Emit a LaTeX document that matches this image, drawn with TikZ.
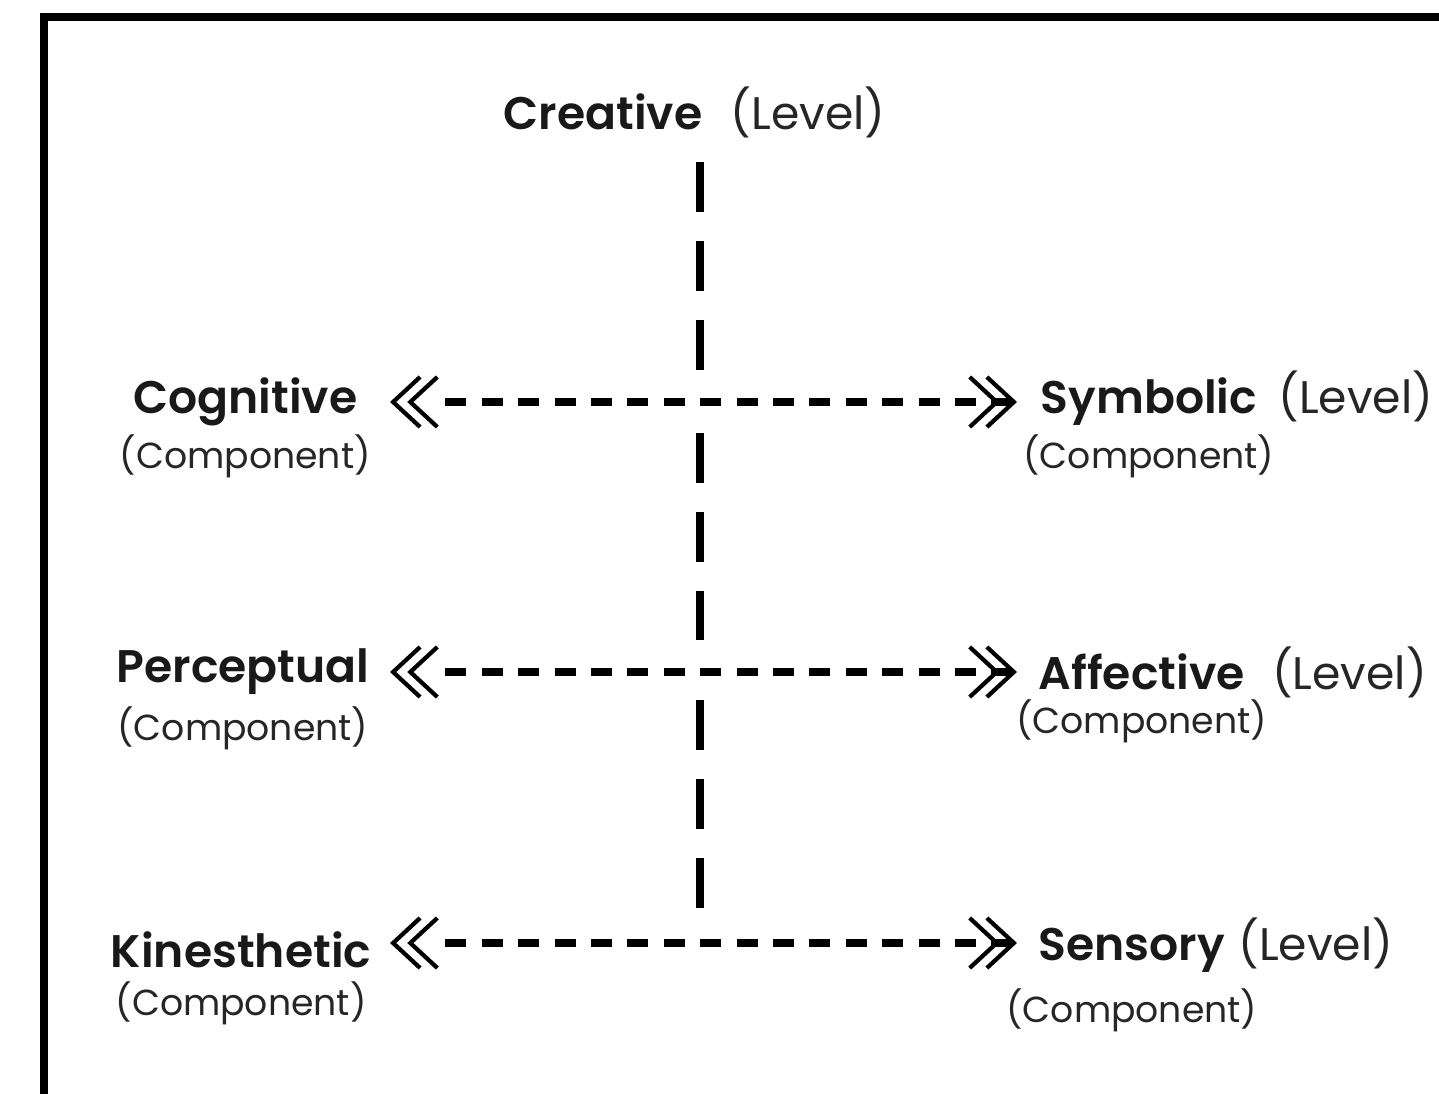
\documentclass[tikz,border=0pt]{standalone}
\usepackage{fontspec}
\setmainfont{Poppins}[BoldFont={Poppins SemiBold}]
\usetikzlibrary{arrows.meta,positioning}

\tikzset{
  chev/.tip={Straight Barb[length=0.27cm,width=0.5cm,line width=1.2pt]},
  word/.style={font=\bfseries\fontsize{13}{15}\selectfont, text=black!90, inner sep=0pt},
  lvl/.style={font=\fontsize{13}{15}\selectfont, text=black!85, inner sep=0pt},
  comp/.style={font=\fontsize{10.3}{12}\selectfont, text=black!85, inner sep=0pt},
  hline/.style={line width=2.3pt, dash pattern=on 0.21cm off 0.154cm, dash phase=0.304cm,
    arrows={chev[]chev[sep=-0.15cm].}-{chev[sep=-0.15cm]chev[].}},
  vline/.style={line width=2.5pt, dash pattern=on 0.5cm off 0.29cm},
  frame/.style={line width=2.3pt}
}

\begin{document}
\begin{tikzpicture}
  \useasboundingbox (0,0) rectangle (14.39,-10.94);
  \clip (0,0) rectangle (14.39,-10.94);

  % Outer frame
  \draw[frame] (0.44,-11.2) -- (0.44,-0.17) -- (14.8,-0.17);

  % Arrow ends and crossings
  \coordinate (t1l) at (3.90,-4.02);
  \coordinate (t1r) at (10.17,-4.02);
  \coordinate (t2l) at (3.90,-6.72);
  \coordinate (t2r) at (10.17,-6.72);
  \coordinate (t3l) at (3.90,-9.43);
  \coordinate (t3r) at (10.17,-9.43);
  \coordinate (vtop) at (7.00,-1.62);
  \coordinate (c1) at (7.00,-4.02);
  \coordinate (c2) at (7.00,-6.72);
  \coordinate (vend) at (7.00,-9.10);

  % Top level
  \node[word] (cre) at (6.03,-1.12) {Creative};
  \node[lvl, base right=0.27cm of cre] (creL) {(Level)};

  % Components on the left
  \node[word, left=0.32cm of t1l] (cog) {Cognitive};
  \node[comp, below=0.07cm of cog] (cogC) {(Component)};
  \node[word, left=0.20cm of t2l] (per) {Perceptual};
  \node[comp, below=0.10cm of per] (perC) {(Component)};
  \node[word, left=0.18cm of t3l, yshift=-0.07cm] (kin) {Kinesthetic};
  \node[comp, below=0.12cm of kin] (kinC) {(Component)};

  % Levels on the right
  \node[word, right=0.23cm of t1r] (sym) {Symbolic};
  \node[lvl, base right=0.2cm of sym] (symL) {(Level)};
  \node[comp, below=0.07cm of sym] (symC) {(Component)};
  \node[word, right=0.21cm of t2r] (aff) {Affective};
  \node[lvl, base right=0.26cm of aff] (affL) {(Level)};
  \node[comp, below=0.08cm of aff] (affC) {(Component)};
  \node[word, right=0.21cm of t3r, yshift=-0.07cm] (sen) {Sensory};
  \node[lvl, base right=0.12cm of sen] (senL) {(Level)};
  \node[comp, below=0.15cm of sen] (senC) {(Component)};

  % Vertical dashed line
  \draw[vline, shorten >=0.32cm] (vtop) -- (c1);
  \draw[vline, shorten <=0.31cm, shorten >=0.32cm] (c1) -- (c2);
  \draw[vline, shorten <=0.28cm] (c2) -- (vend);

  % Double-headed dashed arrows
  \draw[hline] (t1l) -- (t1r);
  \draw[hline] (t2l) -- (t2r);
  \draw[hline] (t3l) -- (t3r);
\end{tikzpicture}
\end{document}
